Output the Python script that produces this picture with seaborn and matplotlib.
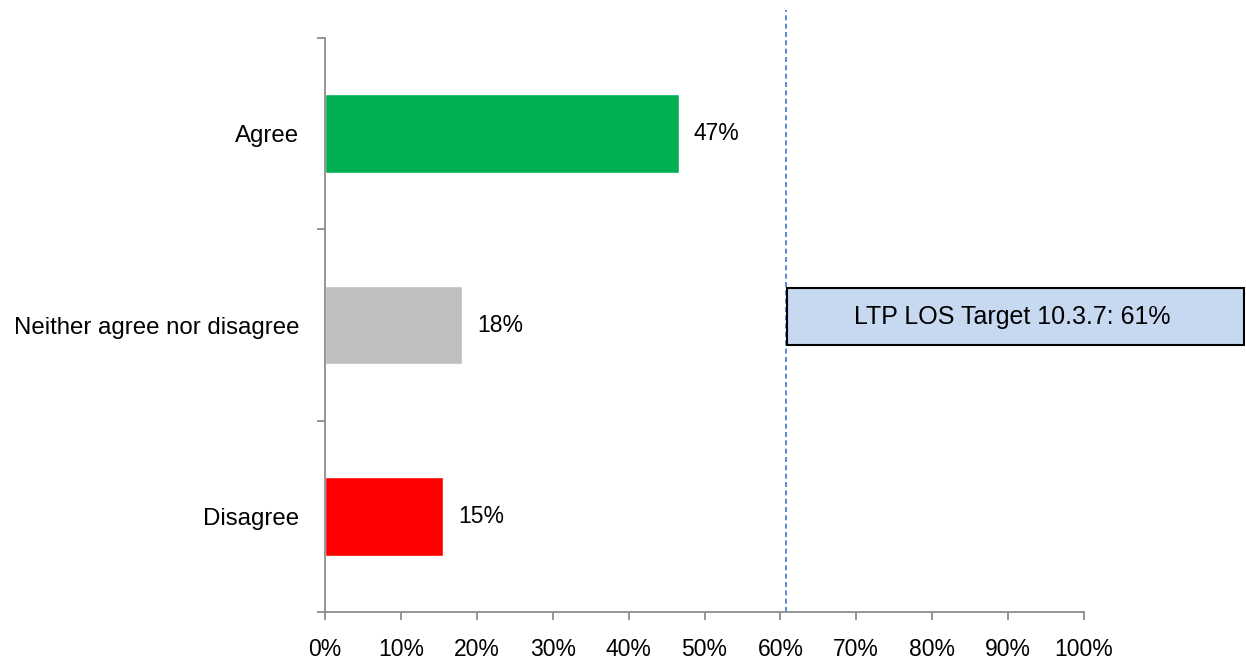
import numpy as np
import pandas as pd
import matplotlib
matplotlib.use("Agg")
import matplotlib.pyplot as plt
from matplotlib.patches import Rectangle
import seaborn as sns

# ------------------------------------------------------------------
# DATA
# ------------------------------------------------------------------
categories = ["Agree", "Neither agree nor disagree", "Disagree"]
values = [46.6, 18.0, 15.5]
value_labels = ["47%", "18%", "15%"]
bar_colors = ["#00B050", "#BFBFBF", "#FF0000"]
target_value = 61
target_label = "LTP LOS Target 10.3.7: 61%"
x_ticks = list(range(0, 101, 10))

# ------------------------------------------------------------------
# PLOT
# ------------------------------------------------------------------
sns.set_theme(style="white")
plt.rcParams["font.family"] = ["Liberation Sans", "DejaVu Sans"]

df = pd.DataFrame({"category": categories, "value": values})

fig = plt.figure(figsize=(12.46, 6.64), dpi=100)
ax = fig.add_axes([325 / 1246, 1 - 612 / 664, (1084 - 325) / 1246, (612 - 38) / 664])

sns.barplot(data=df, y="category", x="value", hue="category",
            palette=bar_colors, order=categories, hue_order=categories,
            width=0.41, legend=False, ax=ax, saturation=1)

for cont, lab in zip(ax.containers, value_labels):
    ax.bar_label(cont, labels=[lab], padding=11, fontsize=16.5, color="black")

ax.set_xlim(0, 100)
ax.set_ylim(2.5, -0.5)
ax.set_xticks(x_ticks)
ax.set_xticklabels([f"{t}%" for t in x_ticks], fontsize=16.5)
ax.set_yticks(range(len(categories)))
ax.set_yticklabels(categories, fontsize=17.3)
ax.set_yticks([-0.5, 0.5, 1.5, 2.5], minor=True)
ax.set_xlabel("")
ax.set_ylabel("")

spine_col = "#8C8C8C"
for side in ("top", "right"):
    ax.spines[side].set_visible(False)
for side in ("left", "bottom"):
    ax.spines[side].set_color(spine_col)
    ax.spines[side].set_linewidth(1.3)

ax.tick_params(axis="y", which="major", length=0, pad=18.5, colors="black")
ax.tick_params(axis="y", which="minor", length=6, width=1.3, color=spine_col,
               direction="out", left=True)
ax.tick_params(axis="x", which="major", length=6, width=1.3, color=spine_col,
               direction="out", bottom=True, pad=13, labelcolor="black")

# target line and box
ax.axvline(target_value - 0.2, ymin=0, ymax=1 + 28 / 574, color="#4472C4",
           ls=(0, (3, 2)), lw=1.2, clip_on=False, zorder=1)
box_left, box_right = 60.9, 121.1
box_top, box_bottom = 0.807, 1.105
ax.add_patch(Rectangle((box_left, box_top), box_right - box_left, box_bottom - box_top,
                       facecolor="#C6D9F1", edgecolor="black", lw=1.5,
                       clip_on=False, zorder=3))
ax.text((box_left + box_right) / 2 - 0.5, (box_top + box_bottom) / 2, target_label,
        ha="center", va="center", fontsize=18, color="black", zorder=4,
        clip_on=False)

fig.savefig("out.png", dpi=100)
